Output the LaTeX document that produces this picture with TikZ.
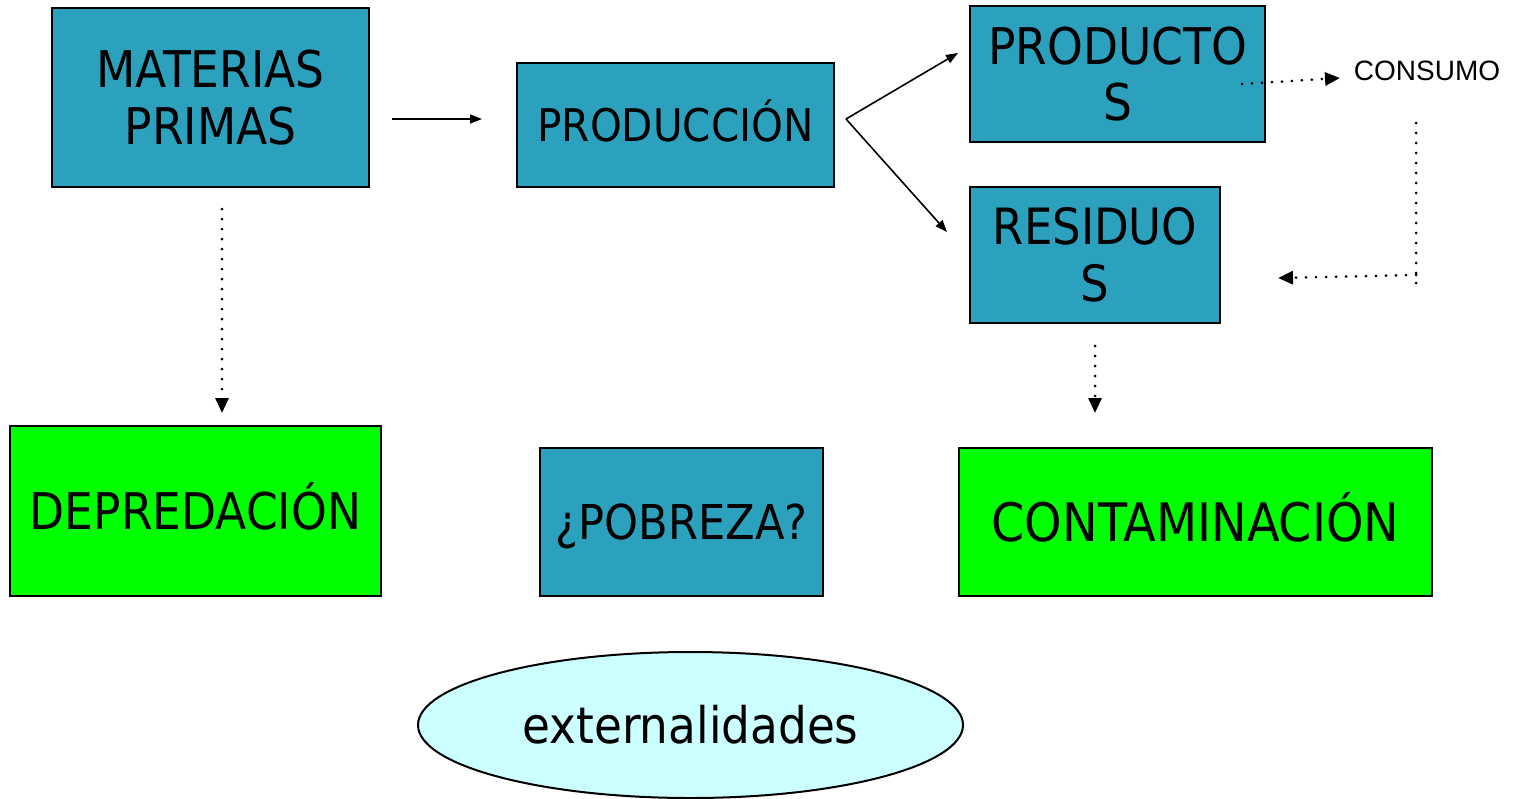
\documentclass[tikz,border=0pt]{standalone}
\usepackage{fontspec}
\setmainfont{DejaVu Sans}[FakeStretch=0.9]
\newfontfamily\arialfont{Liberation Sans}
\usetikzlibrary{arrows.meta,shapes.geometric}
\definecolor{teal}{RGB}{44,161,190}
\definecolor{lgreen}{RGB}{0,255,0}
\definecolor{lcyan}{RGB}{204,255,255}
\tikzset{
  box/.style={draw=black,line width=1pt,fill=teal,inner sep=0pt,align=center,text=black},
  gbox/.style={box,fill=lgreen},
  oneline/.style={text height=#1,text depth=0pt},
  solidarrow/.style={line width=0.8pt,-{Triangle[length=6pt,width=4.5pt]}},
  dotarrow/.style={line width=1.5pt,line cap=round,dash pattern=on 0pt off 5pt,-{Triangle[length=7.5pt,width=6.5pt]}},
  dotline/.style={line width=1.5pt,line cap=round,dash pattern=on 0pt off 5pt}
}
\begin{document}
\begin{tikzpicture}[x=0.5pt,y=-0.5pt]
\useasboundingbox (0,0) rectangle (1514,798);
\node[box,minimum width=158.5pt,minimum height=89.5pt,font=\fontsize{25.3}{28.5}\selectfont] (mp) at (210.5,97.5) {MATERIAS\\PRIMAS};
\node[box,oneline=16.4pt,minimum width=158.5pt,minimum height=62pt,font=\fontsize{22.5}{26}\selectfont] (prod) at (675.5,125) {PRODUCCIÓN};
\node[box,minimum width=147.5pt,minimum height=68pt,font=\fontsize{25.3}{28}\selectfont] (pt) at (1117.5,74) {PRODUCTO\\S};
\node[box,minimum width=125pt,minimum height=68pt,font=\fontsize{25}{28.5}\selectfont] (res) at (1095,255) {RESIDUO\\S};
\node[gbox,oneline=18.5pt,minimum width=185.5pt,minimum height=85pt,font=\fontsize{25.3}{28}\selectfont] (dep) at (195.5,511) {DEPREDACIÓN};
\node[box,oneline=17.5pt,minimum width=141.5pt,minimum height=74pt,font=\fontsize{24}{28}\selectfont] (pob) at (681.5,522) {¿POBREZA?};
\node[gbox,oneline=19.3pt,minimum width=236.5pt,minimum height=74pt,font=\fontsize{26.5}{30}\selectfont] (cont) at (1195.5,522) {CONTAMINACIÓN};
\node[ellipse,draw=black,line width=1pt,fill=lcyan,minimum width=272.5pt,minimum height=73pt,inner sep=0pt,font=\fontsize{25.2}{28}\selectfont] (ext) at (690.5,725) {externalidades};
\node[font=\arialfont\fontsize{14}{16}\selectfont,inner sep=0pt] (cons) at (1427,71) {CONSUMO};
% coordinates for connector ends
\coordinate (a1) at (392,119);
\coordinate (a2) at (482,119);
\coordinate (b0) at (846,119);
\coordinate (b1) at (958,53);
\coordinate (b2) at (947,232);
\coordinate (c1) at (1242,84);
\coordinate (c2) at (1340,78);
\coordinate (d1) at (1416,123);
\coordinate (d2) at (1416,283);
\coordinate (d3) at (1416,275);
\coordinate (d4) at (1278,278);
\coordinate (e1) at (222,209);
\coordinate (e2) at (222,413);
\coordinate (f1) at (1095,346);
\coordinate (f2) at (1095,413);
\draw[solidarrow] (a1) -- (a2);
\draw[solidarrow] (b0) -- (b1);
\draw[solidarrow] (b0) -- (b2);
\draw[dotarrow] (c1) -- (c2);
\draw[dotline] (d1) -- (d2);
\draw[dotarrow] (d3) -- (d4);
\draw[dotarrow] (e1) -- (e2);
\draw[dotarrow] (f1) -- (f2);
\end{tikzpicture}
\end{document}
